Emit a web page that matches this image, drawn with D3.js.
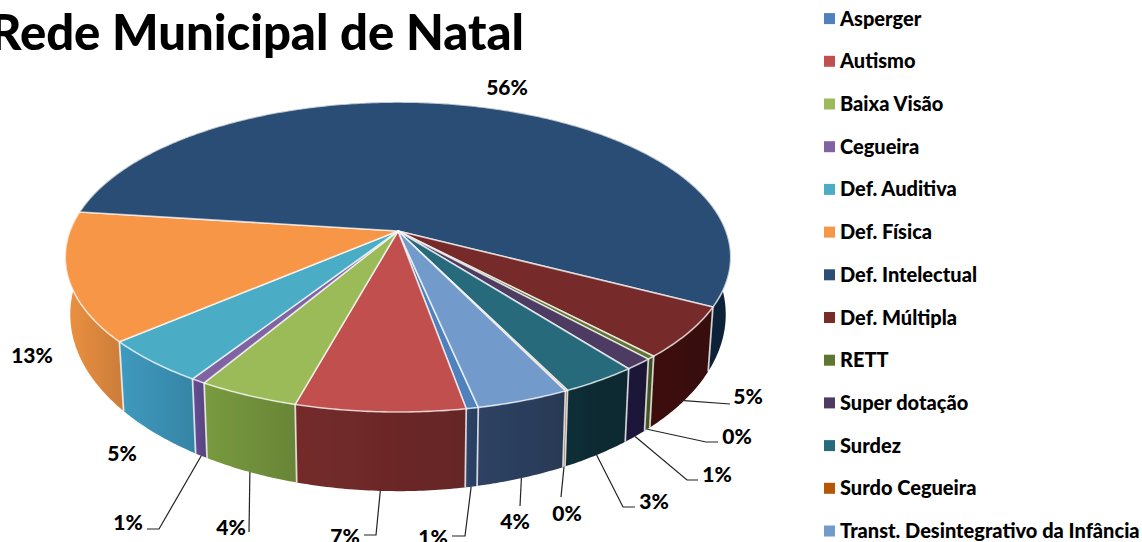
<!DOCTYPE html>
<html>
<head>
<meta charset="utf-8">
<script src="https://cdn.jsdelivr.net/npm/d3@7"></script>
<style>
  html, body { margin: 0; padding: 0; background: #fff; overflow: hidden; }
  text { font-family: Lato, "Open Sans", sans-serif; font-weight: 900; fill: #000; }
</style>
</head>
<body>
<svg id="chart" width="1142" height="542"></svg>
<script>
// slices in legend order (percent)
const categories = ["Asperger", "Autismo", "Baixa Visão", "Cegueira", "Def. Auditiva", "Def. Física",
  "Def. Intelectual", "Def. Múltipla", "RETT", "Super dotação", "Surdez", "Surdo Cegueira",
  "Transt. Desintegrativo da Infância"];
const values = [0.5, 7.0, 4.2, 0.6, 4.6, 13.4, 55.6, 5.3, 0.35, 1.2, 3.2, 0.1, 3.85];
const topColors = ["#4f81bd", "#c0504d", "#9bbb59", "#8064a2", "#4bacc6", "#f79646", "#2c4d75",
  "#772c2a", "#5f7530", "#4d3b62", "#276a7c", "#b65708", "#729aca"];
const wallColors = ["#2b4063", "#6d2828", "#718f3b", "#5f4a8b", "#3a8fb2", "#dc873d", "#10263c",
  "#3a100c", "#3f4f22", "#1d1438", "#0d2b33", "#7a3a05", "#2b3d5c"];

// label placement: text centre, then the elbow and end of the leader (if it has one)
const labelLayout = [
  { x: 433, y: 536, leader: [[465, 536], [452, 536]] },
  { x: 345, y: 535, leader: [[376, 535], [364, 535]] },
  { x: 231, y: 526, leader: [[249, 532]] },
  { x: 128, y: 521, leader: [[159, 529], [147, 529]] },
  { x: 122, y: 452 },
  { x: 32, y: 354 },
  { x: 507, y: 86 },
  { x: 748, y: 395, leader: [[730, 404]] },
  { x: 737, y: 435, leader: [[706, 442], [718, 442]] },
  { x: 717, y: 473, leader: [[687, 480], [698, 480]] },
  { x: 654, y: 500, leader: [[623, 507], [635, 507]] },
  { x: 567, y: 512, leader: [[561, 497]] },
  { x: 515, y: 520, leader: [[520, 506]] }
];

const svg = d3.select("#chart");
const defs = svg.append("defs");
const deg = Math.PI / 180;

// soft edges, the original is a slightly blurred bitmap
defs.append("filter").attr("id", "soft")
  .append("feGaussianBlur").attr("stdDeviation", 0.5);

// Perspective view of the disc: the apex sits above the centre of the ellipse
const apex = [398, 231], persp = -0.168, rx = 328, ry = 150.6;
function rimTop(a) {
  const x = Math.sin(a), y = -Math.cos(a), w = 1 + persp * y;
  return [apex[0] + rx * x / w, apex[1] + ry * y / w];
}
function rimBottom(a) {
  const p = rimTop(a);
  return [apex[0] + 0.985 * (p[0] - apex[0]), 490 + 1.14 * (p[1] - 411)];
}
function arcAngles(a0, a1) {
  return d3.range(a0, a1, 0.01).concat([a1]);
}

const pie = d3.pie().sort(null).value(d => d)
  .startAngle(168.2 * deg).endAngle(528.2 * deg);
const slices = pie(values).map((d, i) => ({ ...d, i }));
const line = d3.line();

// Title, clipped by the left edge like in the original
svg.append("text").attr("x", 524).attr("y", 50).attr("text-anchor", "end")
  .attr("font-size", 49).text("Rede Municipal de Natal");

const pieG = svg.append("g").attr("filter", "url(#soft)");

// walls, back to front
const walls = slices.map(d => {
  const ang = arcAngles(d.startAngle, d.endAngle);
  return { ...d, ang, top: ang.map(rimTop), bottom: ang.map(rimBottom).reverse() };
}).sort((a, b) => d3.max(a.top, p => p[1]) - d3.max(b.top, p => p[1]));

walls.forEach(d => {
  const xs = d.top.map(p => p[0]);
  const g = defs.append("linearGradient").attr("id", "wall" + d.i)
    .attr("gradientUnits", "userSpaceOnUse")
    .attr("x1", d3.min(xs)).attr("x2", d3.max(xs)).attr("y1", 0).attr("y2", 0);
  g.append("stop").attr("offset", 0).attr("stop-color", d3.color(wallColors[d.i]).brighter(0.2));
  g.append("stop").attr("offset", 1).attr("stop-color", d3.color(wallColors[d.i]).darker(0.2));
});

pieG.selectAll(".wall").data(walls).join("path")
  .attr("class", "wall")
  .attr("fill", d => "url(#wall" + d.i + ")")
  .attr("d", d => line(d.top.concat(d.bottom)) + "Z");

// pale vertical seams between the walls, only on the front of the disc
pieG.selectAll(".seam").data(slices.filter(d => -Math.cos(d.startAngle) > -0.35)).join("path")
  .attr("class", "seam")
  .attr("fill", "none")
  .attr("stroke", "#fff").attr("stroke-opacity", 0.75).attr("stroke-width", 1.8)
  .attr("d", d => line([rimTop(d.startAngle), rimBottom(d.startAngle)]));

// top faces
pieG.selectAll(".face").data(slices).join("path")
  .attr("class", "face")
  .attr("fill", d => topColors[d.i])
  .attr("stroke", "#fff").attr("stroke-opacity", 0.7).attr("stroke-width", 1.6)
  .attr("stroke-linejoin", "round")
  .attr("d", d => line([apex].concat(arcAngles(d.startAngle, d.endAngle).map(rimTop))) + "Z");

// percent labels and leaders
slices.forEach(d => {
  const lay = labelLayout[d.i];
  if (lay.leader) {
    const start = rimBottom((d.startAngle + d.endAngle) / 2);
    svg.append("path").attr("fill", "none").attr("stroke", "#222").attr("stroke-width", 1.2)
      .attr("d", line([start].concat(lay.leader)));
  }
  svg.append("text").attr("x", lay.x).attr("y", lay.y).attr("text-anchor", "middle")
    .attr("dominant-baseline", "central").attr("font-size", 21)
    .text(Math.round(values[d.i]) + "%");
});

// legend
const legendY = d3.scalePoint().domain(categories).range([18.6, 531]);
const legend = svg.selectAll(".legend").data(categories).join("g")
  .attr("class", "legend")
  .attr("transform", d => `translate(824,${legendY(d)})`);
legend.append("rect").attr("y", -5.5).attr("width", 11).attr("height", 11)
  .attr("fill", (d, i) => topColors[i]);
legend.append("text").attr("x", 16).attr("y", -1).attr("dominant-baseline", "central")
  .attr("font-size", 20).text(d => d);
</script>
</body>
</html>
